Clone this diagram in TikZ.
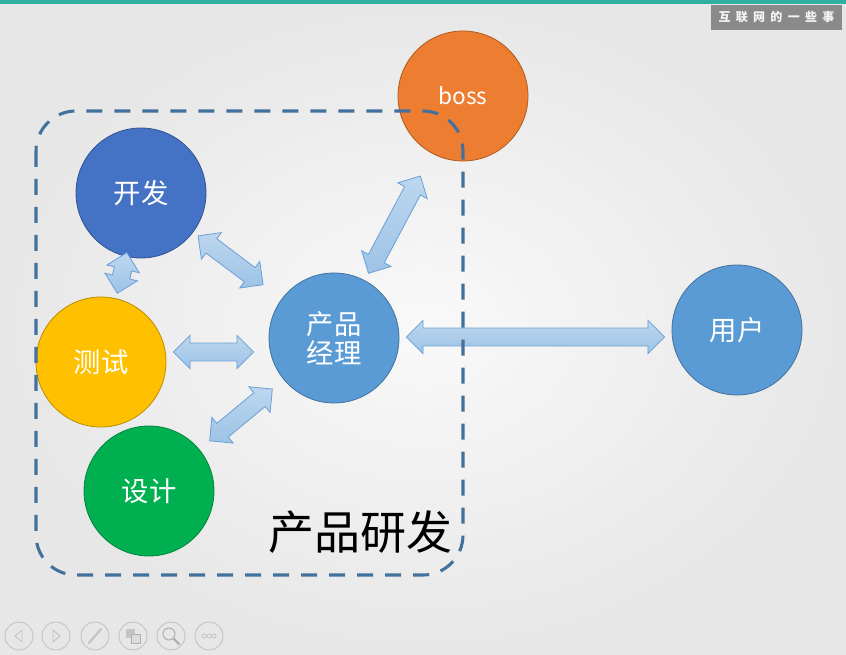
\documentclass[tikz,border=0pt]{standalone}
\usepackage{fontspec}
\setmainfont{Noto Sans CJK SC}
\newfontfamily\tagfont[LetterSpace=44]{Noto Sans CJK SC}
\usepackage{tikz}
\usetikzlibrary{calc, shapes.arrows}

\definecolor{bgin}{HTML}{F9F9F9}
\definecolor{bgout}{HTML}{E7E7E7}
\definecolor{topbar}{HTML}{2FB0A2}
\definecolor{taggray}{HTML}{8A8A8A}
\definecolor{devblue}{HTML}{4472C4}
\definecolor{devline}{HTML}{2F528F}
\definecolor{testyellow}{HTML}{FFC000}
\definecolor{testline}{HTML}{BC8C00}
\definecolor{designgreen}{HTML}{00B050}
\definecolor{designline}{HTML}{00843C}
\definecolor{pmblue}{HTML}{5B9BD5}
\definecolor{pmline}{HTML}{41719C}
\definecolor{bossorange}{HTML}{ED7D31}
\definecolor{bossline}{HTML}{AE5A21}
\definecolor{arrowlight}{HTML}{BDD7EE}
\definecolor{arrowdark}{HTML}{9DC3E6}
\definecolor{arrowline}{HTML}{6A9FD8}
\definecolor{groupblue}{HTML}{41719C}
\definecolor{navgray}{HTML}{C4C4C4}

\tikzset{
	role/.style={circle, minimum size=97.5pt, inner sep=0pt, line width=0.6pt, text=white, align=center, font=\fontsize{20.5}{22}\selectfont},
	twoway/.style={double arrow, double arrow head extend=5.8pt, double arrow tip angle=90, inner xsep=0pt, inner ysep=6.4pt, minimum width=0pt, draw=arrowline, line width=0.6pt, top color=arrowlight, bottom color=arrowdark},
	groupline/.style={draw=groupblue, line width=2.3pt, dash pattern=on 12pt off 9pt, rounded corners=30pt},
	navbtn/.style={circle, draw=navgray, line width=0.7pt, minimum size=21pt, inner sep=0pt}
}

\newcommand{\biarrow}[2]{%
	\path let \p1=($(#2)-(#1)$), \n1={atan2(\y1,\x1)}, \n2={veclen(\x1,\y1)} in
		node[twoway, minimum height=\n2, rotate=\n1] at ($(#1)!0.5!(#2)$) {};
}

\begin{document}
\begin{tikzpicture}[x=0.75pt, y=-0.75pt]
			\shade[inner color=bgin, outer color=bgout] (0,0) rectangle (846,655);
			\useasboundingbox (0,0) rectangle (846,655);
			\fill[topbar] (0,0) rectangle (846,4);
			\node[fill=taggray, text=white!92!gray, minimum width=98pt, minimum height=18.5pt, inner sep=0pt, font=\tagfont\bfseries\fontsize{9}{10}\selectfont] (tag) at (776.5,17.5) {互联网的一些事};
			
			\node[role, fill=devblue, draw=devline] (kf)     at (141,193) {开发};
			\node[role, fill=testyellow, draw=testline] (cs) at (101,362) {测试};
			\node[role, fill=designgreen, draw=designline] (sj) at (149,491) {设计};
			\node[role, fill=pmblue, draw=pmline] (pm)       at (334,338) {产品\\经理};
			\node[role, fill=bossorange, draw=bossline, font=\fontsize{17}{19}\selectfont] (boss) at (463,96) {boss};
			\node[role, fill=pmblue, draw=pmline] (yh)       at (737,330) {用户};
			
			% arrow ends
			\coordinate (kf-cs) at ($(kf)!46pt!(cs)$);
			\coordinate (cs-kf) at ($(cs)!53pt!(kf)$);
			\coordinate (kf-pm) at ($(kf)!53.5pt!(pm)$);
			\coordinate (pm-kf) at ($(pm)!66.5pt!(kf)$);
			\coordinate (cs-pm) at ($(cs.east)+(7,-10)$);
			\coordinate (pm-cs) at ($(pm.west)+(-15,14)$);
			\coordinate (sj-pm) at ($(sj)!59pt!(pm)$);
			\coordinate (pm-sj) at ($(pm)!60pt!(sj)$);
			\coordinate (pm-boss) at ($(pm)!55pt!(boss)$);
			\coordinate (boss-pm) at ($(boss)!68pt!(pm)$);
			\coordinate (pm-yh) at ($(pm.east)+(7,-1)$);
			\coordinate (yh-pm) at ($(yh.west)+(-7,7)$);
			
			\biarrow{kf-cs}{cs-kf}
			\biarrow{kf-pm}{pm-kf}
			\biarrow{cs-pm}{pm-cs}
			\biarrow{sj-pm}{pm-sj}
			\biarrow{pm-boss}{boss-pm}
			\biarrow{pm-yh}{yh-pm}
			
			\draw[groupline] (36,111) rectangle (463,575);
			\node[font=\fontsize{34.5}{36}\selectfont] (title) at (360,532) {产品研发};
			
			% slide buttons
			\foreach \i/\x in {1/19, 2/56, 3/95, 4/133, 5/171, 6/209}
				\node[navbtn] (nav\i) at (\x,636) {};
			\draw[navgray, line width=0.7pt] ($(nav1)+(3,-6)$) -- ($(nav1)+(-4,0)$) -- ($(nav1)+(3,6)$) -- cycle;
			\draw[navgray, line width=0.7pt] ($(nav2)+(-3,-6)$) -- ($(nav2)+(4,0)$) -- ($(nav2)+(-3,6)$) -- cycle;
			\draw[navgray, line width=1.6pt, line cap=round] ($(nav3)+(-6,7)$) -- ($(nav3)+(6,-7)$);
			\fill[navgray] ($(nav4)+(-7,-7)$) rectangle ($(nav4)+(2,2)$);
			\draw[navgray!70!gray, line width=0.7pt, fill=navgray!60] ($(nav4)+(-2,-2)$) rectangle ($(nav4)+(7,7)$);
			\draw[navgray!70!gray, line width=0.8pt] ($(nav5)+(-2,-2)$) circle[radius=4.5pt];
			\draw[navgray!70!gray, line width=1.6pt, line cap=round] ($(nav5)+(3,3)$) -- ($(nav5)+(8,8)$);
			\foreach \d in {-5, 0, 5}
				\draw[navgray, line width=0.6pt] ($(nav6)+(\d,0)$) circle[radius=1.6pt];
		\end{tikzpicture}
\end{document}
